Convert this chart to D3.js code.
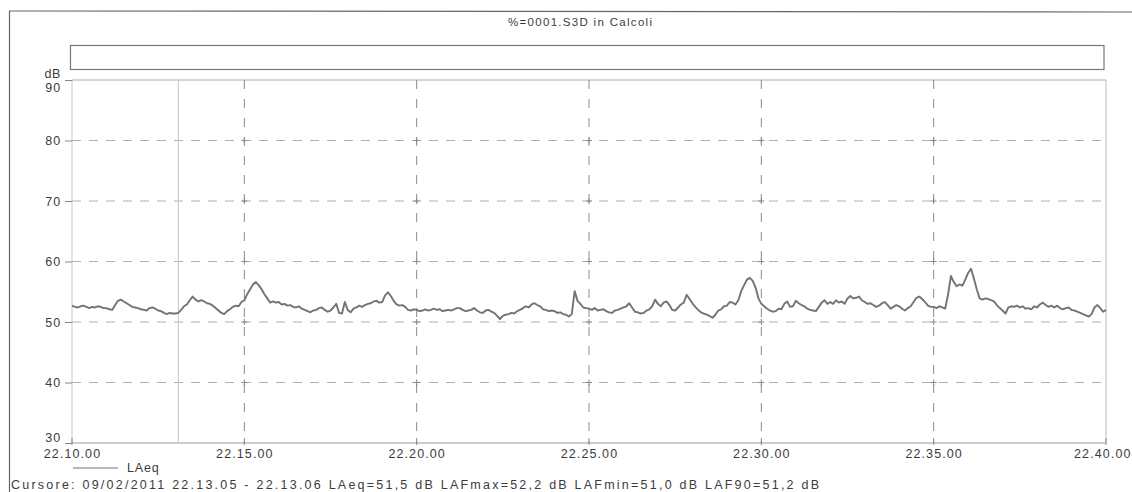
<!DOCTYPE html>
<html>
<head>
<meta charset="utf-8">
<script src="https://cdn.jsdelivr.net/npm/d3@7"></script>
<style>
  html, body { margin: 0; padding: 0; background: #fff; }
  svg { display: block; }
  text { font-family: "Liberation Sans", Arial, sans-serif; fill: #3c3c3c; }
</style>
</head>
<body>
<svg id="chart" width="1132" height="492"></svg>
<script>
// Recording title and cursor readout
const title = "%=0001.S3D in Calcoli";
const cursorText = "Cursore: 09/02/2011 22.13.05 - 22.13.06  LAeq=51,5 dB  LAFmax=52,2 dB  LAFmin=51,0 dB  LAF90=51,2 dB";
const seriesName = "LAeq";

// Time span of the measurement and sample period (seconds)
const startTime = new Date(2011, 1, 9, 22, 10, 0);
const endTime = new Date(2011, 1, 9, 22, 40, 0);
const sampleSeconds = 5;
const cursorTime = new Date(2011, 1, 9, 22, 13, 5);

// Level axis
const yTicks = [30, 40, 50, 60, 70, 80, 90];
const yUnit = "dB";
// Time axis labels (every 5 minutes)
const xTickLabels = ["22.10.00", "22.15.00", "22.20.00", "22.25.00", "22.30.00", "22.35.00", "22.40.00"];

// LAeq, one value every 5 s from 22.10.00
const laeq = [
  52.7, 52.5, 52.4, 52.6, 52.7, 52.5, 52.3, 52.5, 52.4, 52.6, 52.5, 52.3,
  52.3, 52.1, 52.0, 52.8, 53.5, 53.7, 53.4, 53.1, 52.8, 52.5, 52.4, 52.3,
  52.1, 52.0, 51.9, 52.3, 52.4, 52.2, 51.9, 51.8, 51.5, 51.3, 51.5, 51.4,
  51.4, 51.5, 52.0, 52.6, 52.9, 53.6, 54.2, 53.7, 53.4, 53.6, 53.4, 53.1,
  53.0, 52.7, 52.3, 51.9, 51.5, 51.3, 51.8, 52.1, 52.5, 52.7, 52.6, 53.3,
  53.6, 54.6, 55.4, 56.2, 56.6, 56.1, 55.4, 54.6, 53.9, 53.2, 53.4, 53.2,
  53.3, 52.9, 53.0, 52.7, 52.8, 52.5, 52.4, 52.6, 52.2, 52.0, 51.8, 51.6,
  51.9, 52.0, 52.3, 52.4, 52.0, 51.7, 51.9, 52.4, 53.0, 51.5, 51.4, 53.3,
  52.0, 51.6, 52.2, 52.4, 52.7, 52.5, 52.8, 53.0, 53.1, 53.4, 53.5, 53.2,
  53.3, 54.4, 54.9, 54.3, 53.5, 52.9, 52.7, 52.8, 52.5, 52.0, 51.9, 52.1,
  52.0, 51.8, 51.9, 52.1, 51.9, 52.0, 52.2, 52.0, 52.1, 51.8, 51.9, 52.0,
  51.9, 52.1, 52.3, 52.3, 52.0, 51.8, 51.9, 52.0, 52.3, 51.9, 51.6, 51.5,
  51.9, 52.0, 51.7, 51.5, 51.0, 50.5, 51.0, 51.2, 51.3, 51.5, 51.4, 51.8,
  52.0, 52.3, 52.6, 52.4, 52.9, 53.1, 52.8, 52.6, 52.1, 52.0, 51.8, 51.9,
  51.8, 51.5, 51.6, 51.3, 51.2, 50.9, 51.3, 55.1, 53.5, 53.0, 52.4, 52.3,
  52.2, 52.0, 52.3, 51.9, 52.0, 52.1, 51.8, 51.6, 51.5, 51.9, 52.0, 52.2,
  52.4, 52.6, 53.1, 52.4, 51.7, 51.6, 51.4, 51.5, 51.9, 52.1, 52.6, 53.7,
  53.0, 52.6, 53.2, 53.4, 52.8, 52.0, 51.9, 52.4, 52.9, 53.2, 54.5, 53.8,
  53.1, 52.5, 52.0, 51.6, 51.4, 51.2, 51.0, 50.7, 51.2, 51.9, 52.1, 52.6,
  52.7, 53.3, 53.2, 52.9, 53.6, 55.1, 56.1, 57.0, 57.3, 56.8, 55.7, 53.9,
  53.0, 52.6, 52.2, 51.9, 51.7, 51.8, 52.2, 52.1, 53.0, 53.4, 52.5, 52.6,
  53.5, 53.1, 52.8, 52.6, 52.2, 52.0, 51.9, 51.8, 52.5, 53.2, 53.6, 53.0,
  53.3, 53.0, 53.6, 53.2, 53.4, 53.0, 53.9, 54.3, 53.9, 54.0, 54.2, 53.6,
  53.3, 53.0, 53.1, 52.8, 52.5, 52.7, 53.1, 53.3, 52.8, 52.2, 52.5, 52.8,
  52.6, 52.2, 51.9, 52.3, 52.6, 53.3, 54.0, 54.2, 53.8, 53.3, 52.7, 52.5,
  52.5, 52.3, 52.6, 52.4, 52.2, 54.5, 57.6, 56.6, 55.9, 56.2, 56.0, 57.0,
  58.1, 58.8, 57.2, 55.4, 53.9, 53.7, 53.9, 53.8, 53.6, 53.4, 52.8, 52.3,
  51.9, 51.4, 52.4, 52.6, 52.5, 52.7, 52.4, 52.6, 52.2, 52.3, 52.1, 52.6,
  52.4, 52.9, 53.2, 52.8, 52.5, 52.7, 52.4, 52.7, 52.3, 52.1, 52.3, 52.4,
  52.0, 51.9, 51.7, 51.5, 51.3, 51.1, 50.9, 51.3, 52.4, 52.8, 52.3, 51.7,
  52.0
];

const svg = d3.select("#chart");
const W = 1132, H = 492;
const plot = { left: 72, right: 1106, top: 80, bottom: 443 };

const x = d3.scaleTime().domain([startTime, endTime]).range([plot.left, plot.right]);
const y = d3.scaleLinear().domain([30, 90]).range([plot.bottom, plot.top]);

const data = laeq.map((v, i) => ({ t: new Date(+startTime + i * sampleSeconds * 1000), v }));

// outer frame of the print-out
svg.append("line").attr("x1", 9).attr("x2", W).attr("y1", 11).attr("y2", 12)
  .attr("stroke", "#666").attr("stroke-width", 1.2);
svg.append("line").attr("x1", 9.5).attr("x2", 9.5).attr("y1", 11).attr("y2", H)
  .attr("stroke", "#666").attr("stroke-width", 1.2);

// title
svg.append("text").attr("x", 508).attr("y", 26)
  .attr("textLength", 144).attr("lengthAdjust", "spacing")
  .style("font-size", "11.5px").text(title);

// empty header box above the plot
svg.append("rect").attr("x", plot.left - 1.5).attr("y", 45.5)
  .attr("width", 1104 - (plot.left - 1.5)).attr("height", 24)
  .attr("fill", "none").attr("stroke", "#777").attr("stroke-width", 1.2);

// plot frame
const frame = svg.append("g");
frame.append("line").attr("x1", plot.left).attr("x2", plot.right).attr("y1", plot.top).attr("y2", plot.top)
  .attr("stroke", "#aaa");
frame.append("line").attr("x1", plot.right).attr("x2", plot.right).attr("y1", plot.top).attr("y2", plot.bottom)
  .attr("stroke", "#bbb");
frame.append("line").attr("x1", plot.left).attr("x2", plot.left).attr("y1", plot.top).attr("y2", plot.bottom)
  .attr("stroke", "#c4c4c4");
frame.append("line").attr("x1", plot.left).attr("x2", plot.right).attr("y1", plot.bottom).attr("y2", plot.bottom)
  .attr("stroke", "#999");

// horizontal dashed grid
const yInner = yTicks.filter(d => d > 30 && d < 90);
svg.append("g").selectAll("line").data(yInner).join("line")
  .attr("x1", plot.left).attr("x2", plot.right)
  .attr("y1", d => y(d)).attr("y2", d => y(d))
  .attr("stroke", "#b0b0b0").attr("stroke-width", 1.1).attr("stroke-dasharray", "9,8");

// vertical dashed grid
const xTicks = d3.timeMinute.every(5).range(startTime, new Date(+endTime + 1));
const xInner = xTicks.slice(1, -1);
svg.append("g").selectAll("line").data(xInner).join("line")
  .attr("x1", d => x(d)).attr("x2", d => x(d))
  .attr("y1", plot.top).attr("y2", plot.bottom)
  .attr("stroke", "#8a8a8a").attr("stroke-width", 1).attr("stroke-dasharray", "9,10");

// small crosses where the grid lines meet
const crosses = [];
xInner.forEach(t => yInner.forEach(v => crosses.push({ t, v })));
svg.append("g").selectAll("path").data(crosses).join("path")
  .attr("d", d => `M${x(d.t) - 3},${y(d.v)}H${x(d.t) + 3}M${x(d.t)},${y(d.v) - 3}V${y(d.v) + 3}`)
  .attr("stroke", "#888").attr("stroke-width", 1);

// cursor line
svg.append("line").attr("x1", x(cursorTime)).attr("x2", x(cursorTime))
  .attr("y1", plot.top).attr("y2", plot.bottom)
  .attr("stroke", "#c4c4c4").attr("stroke-width", 1);

// y axis
const yAxis = d3.axisLeft(y).tickValues(yTicks).tickSize(7).tickFormat(d3.format("d"));
const gy = svg.append("g").attr("transform", `translate(${plot.left},0)`).call(yAxis);
gy.select(".domain").remove();
gy.selectAll(".tick line").attr("stroke", "#888");
gy.selectAll(".tick text")
  .attr("x", -11)
  .attr("dy", d => d === 90 ? "0.95em" : d === 30 ? "-0.15em" : "0.35em")
  .style("font-size", "12.5px").style("letter-spacing", "0.9px")
  .style("font-family", "'Liberation Sans', Arial, sans-serif").attr("fill", "#3c3c3c");
svg.append("text").attr("x", plot.left - 11).attr("y", 78).attr("text-anchor", "end")
  .style("font-size", "12.5px").style("letter-spacing", "0.6px").text(yUnit);

// x axis
const xAxis = d3.axisBottom(x).tickValues(xTicks).tickSize(0)
  .tickFormat((d, i) => xTickLabels[i]);
const gx = svg.append("g").attr("transform", `translate(0,${plot.bottom})`).call(xAxis);
gx.select(".domain").remove();
gx.selectAll(".tick text").attr("y", 6)
  .style("font-size", "12.5px").style("letter-spacing", "1.1px")
  .style("font-family", "'Liberation Sans', Arial, sans-serif").attr("fill", "#3c3c3c");
// the last label is held inside the right edge of the page
gx.selectAll(".tick text").filter((d, i) => i === xTicks.length - 1)
  .attr("text-anchor", "end").attr("x", W - 1 - x(endTime));
// short ticks rising from the bottom edge
svg.append("g").selectAll("line").data(xTicks).join("line")
  .attr("x1", d => x(d)).attr("x2", d => x(d))
  .attr("y1", plot.bottom - 5).attr("y2", plot.bottom + 2)
  .attr("stroke", "#888");

// LAeq trace
const line = d3.line().x(d => x(d.t)).y(d => y(d.v));
svg.append("path").datum(data).attr("d", line)
  .attr("fill", "none").attr("stroke", "#737373").attr("stroke-width", 1.9)
  .attr("stroke-linejoin", "round");

// legend
svg.append("line").attr("x1", 73).attr("x2", 118).attr("y1", 468).attr("y2", 468)
  .attr("stroke", "#707070").attr("stroke-width", 1.2);
svg.append("text").attr("x", 127).attr("y", 472)
  .style("font-size", "12.5px").style("letter-spacing", "0.8px").text(seriesName);

// cursor readout
svg.append("text").attr("x", 11).attr("y", 489)
  .attr("textLength", 808).attr("lengthAdjust", "spacing")
  .style("font-size", "12.5px").text(cursorText);
</script>
</body>
</html>
